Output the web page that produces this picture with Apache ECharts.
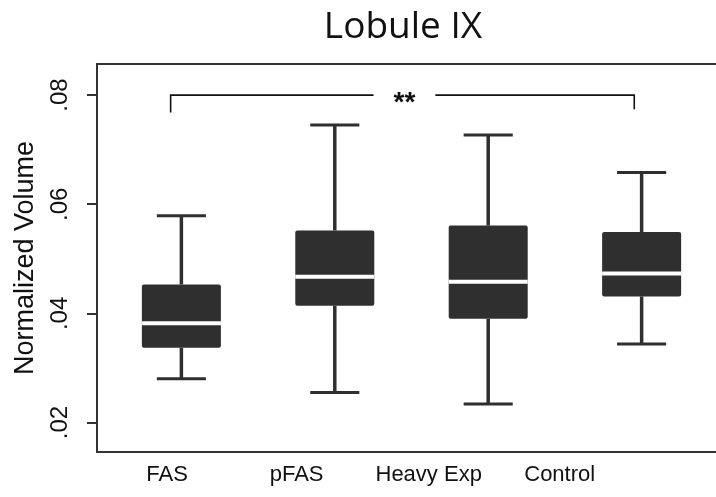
<!DOCTYPE html>
<html><head><meta charset="utf-8">
<script src="https://cdn.jsdelivr.net/npm/echarts@6/dist/echarts.min.js"></script>
<style>html,body{margin:0;padding:0;background:#fff}#c{width:716px;height:497px}</style>
</head><body><div id="c"></div>
<script>
const categories = ['FAS', 'pFAS', 'Heavy Exp', 'Control'];
const boxPositions = [1, 2, 3, 4];
const labelPositions = [0.907, 1.751, 2.612, 3.466];
const mins = [0.0280, 0.0255, 0.0234, 0.0344];
const q1s = [0.0337, 0.0414, 0.0390, 0.0431];
const medians = [0.0382, 0.0467, 0.0458, 0.0473];
const q3s = [0.0453, 0.0552, 0.0561, 0.0549];
const maxs = [0.0579, 0.0745, 0.0727, 0.0658];
const yTicks = [0.02, 0.04, 0.06, 0.08];
const bracketX = [0.930, 3.952];
const bracketY = [0.0768, 0.08, 0.0774];
const bracketLabel = '**';

const dark = '#2f2f2f';
const boxData = boxPositions.map((x, i) => [x, mins[i], q1s[i], medians[i], q3s[i], maxs[i]]);

const chart = echarts.init(document.getElementById('c'), null, {renderer: 'canvas'});
chart.setOption({
  animation: false,
  backgroundColor: '#fff',
  title: {
    text: 'Lobule IX', left: 398, top: 4, textAlign: 'center',
    textStyle: {fontFamily: 'Open Sans', fontWeight: 'normal', fontSize: 37, color: '#111'}
  },
  grid: {left: 97, top: 64, bottom: 45, right: -10, outerBoundsMode: 'none', containLabel: false,
    show: true, borderColor: '#333', borderWidth: 2, backgroundColor: 'transparent'},
  xAxis: {
    type: 'value', min: 0.45, max: 4.55,
    axisLine: {show: false}, axisTick: {show: false}, splitLine: {show: false},
    axisLabel: {
      customValues: labelPositions, margin: 12, fontSize: 22, fontFamily: 'Liberation Sans', color: '#111',
      formatter: v => categories[labelPositions.indexOf(v)]
    }
  },
  yAxis: {
    type: 'value', min: 0.0146, max: 0.0857,
    axisLine: {show: false}, splitLine: {show: false},
    axisTick: {show: true, customValues: yTicks, length: 10, lineStyle: {color: '#333', width: 2}},
    axisLabel: {
      customValues: yTicks, rotate: 90, margin: 25, fontSize: 24, fontFamily: 'Liberation Sans', color: '#111',
      formatter: v => v.toFixed(2).replace(/^0/, '')
    },
    name: 'Normalized Volume', nameLocation: 'middle', nameGap: 58,
    nameTextStyle: {fontSize: 27, fontFamily: 'Liberation Sans', color: '#111'}
  },
  series: [
    {
      type: 'custom', data: boxData, encode: {x: 0, y: [1, 2, 3, 4, 5]},
      renderItem(params, api) {
        const x = api.value(0);
        const c = v => api.coord([x, v]);
        const cx = c(api.value(1))[0];
        const yMin = c(api.value(1))[1], yQ1 = c(api.value(2))[1], yMed = c(api.value(3))[1];
        const yQ3 = c(api.value(4))[1], yMax = c(api.value(5))[1];
        const bw = api.size([0.515, 0])[0];
        const cw = api.size([0.32, 0])[0];
        const ln = (x1, y1, x2, y2, w, col) => ({type: 'line', shape: {x1, y1, x2, y2}, style: {stroke: col || dark, lineWidth: w}});
        return {type: 'group', children: [
          ln(cx, yMin, cx, yQ1, 3.5),
          ln(cx, yQ3, cx, yMax, 3.5),
          ln(cx - cw / 2, yMin, cx + cw / 2, yMin, 3),
          ln(cx - cw / 2, yMax, cx + cw / 2, yMax, 3),
          {type: 'rect', shape: {x: cx - bw / 2, y: yQ3, width: bw, height: yQ1 - yQ3, r: 2}, style: {fill: dark}},
          ln(cx - bw / 2, yMed, cx + bw / 2, yMed, 4, '#fff')
        ]};
      }
    },
    {
      type: 'custom', data: [[bracketX[0], bracketX[1], bracketY[0], bracketY[1], bracketY[2]]],
      encode: {x: [0, 1], y: [2, 3, 4]},
      renderItem(params, api) {
        const p1 = api.coord([api.value(0), api.value(2)]);
        const p2 = api.coord([api.value(0), api.value(3)]);
        const p3 = api.coord([api.value(1), api.value(3)]);
        const p4 = api.coord([api.value(1), api.value(4)]);
        const mid = (p2[0] + p3[0]) / 2;
        return {type: 'group', children: [
          {type: 'polyline', shape: {points: [p1, p2, p3, p4]}, style: {stroke: '#111', lineWidth: 1.6, fill: null}},
          {type: 'text', x: mid + 2, y: p2[1] + 8, style: {text: bracketLabel, font: 'bold 28px "Liberation Sans"', fill: '#111', align: 'center', verticalAlign: 'middle', backgroundColor: '#fff', padding: [0, 20, 0, 20]}}
        ]};
      }
    }
  ]
});
</script></body></html>
